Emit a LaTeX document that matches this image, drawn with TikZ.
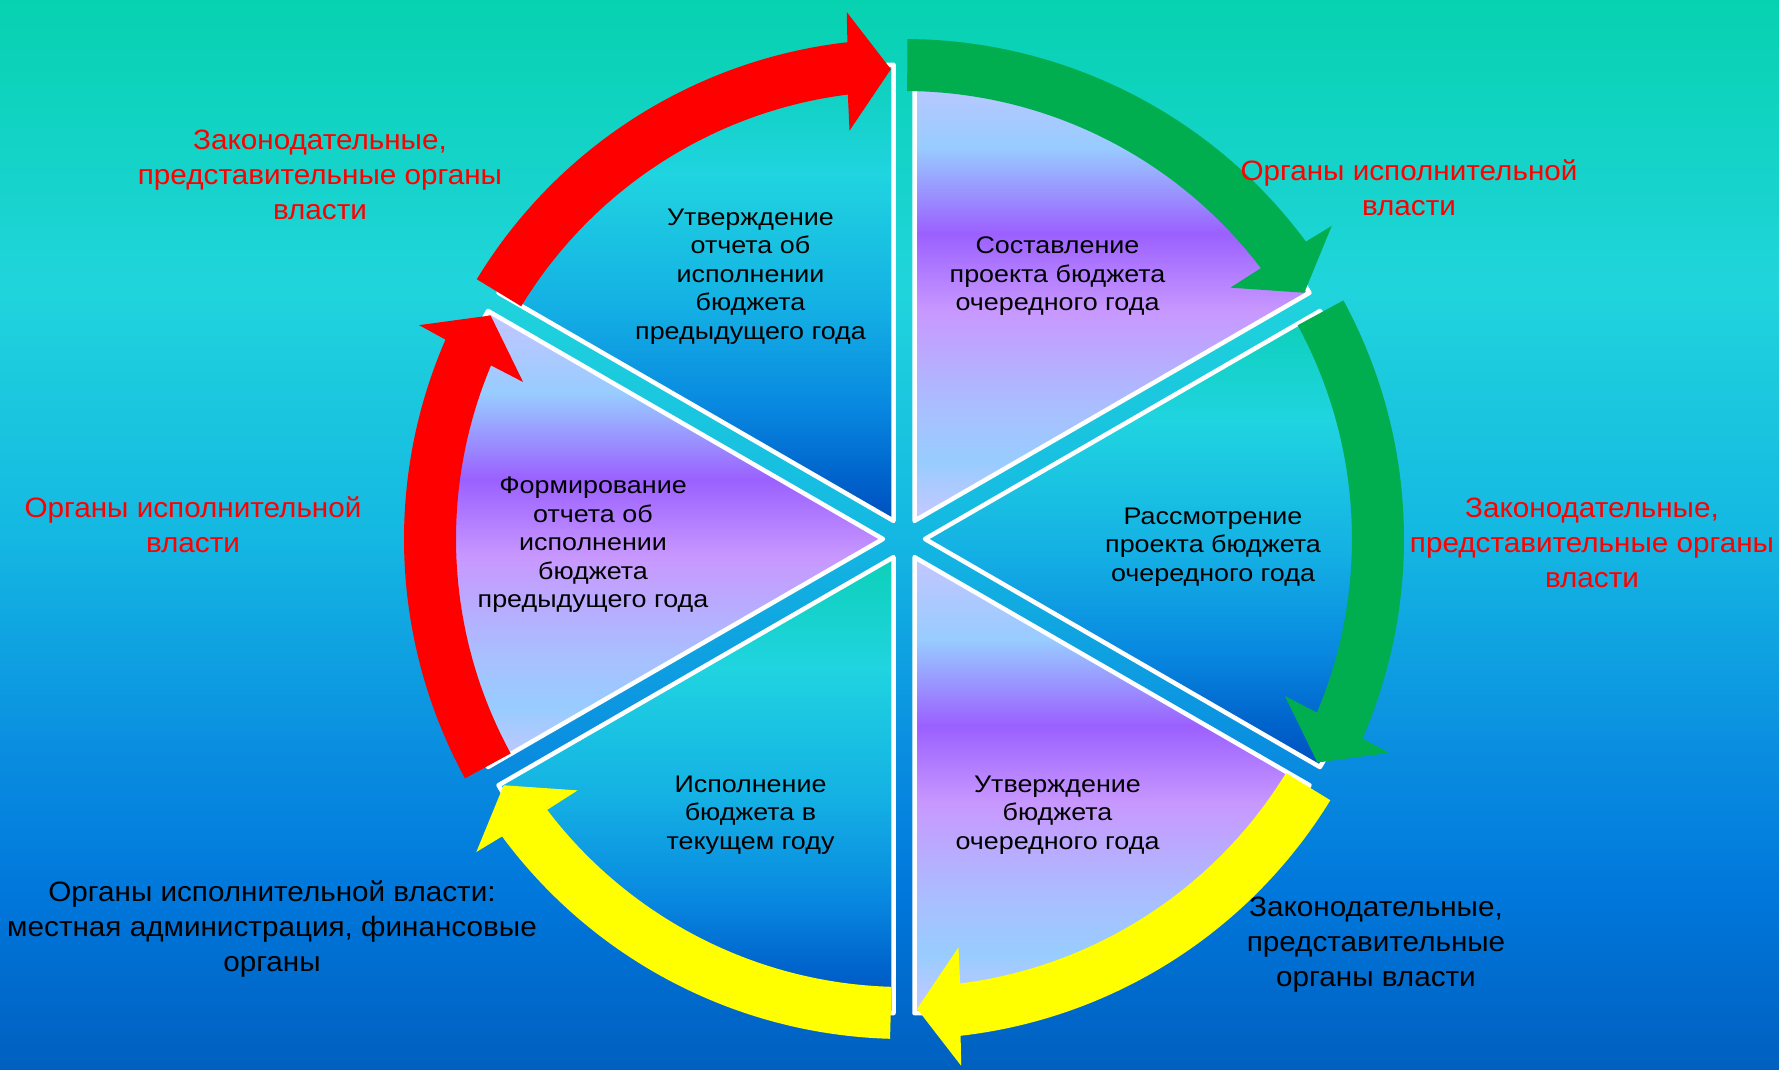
\documentclass[tikz,border=0pt]{standalone}
\usepackage{fontspec}
\setmainfont{Liberation Sans}
\newfontfamily\secfont[FakeStretch=1.12]{Liberation Sans}
\newfontfamily\lblfont[FakeStretch=1.06]{Liberation Sans}

\definecolor{arrred}{HTML}{FF0000}
\definecolor{arrgreen}{HTML}{00AD4F}
\definecolor{arryellow}{HTML}{FFFF00}
% background
\definecolor{bg1}{HTML}{06D2B0}
\definecolor{bg2}{HTML}{20D4DC}
\definecolor{bg3}{HTML}{14B8E2}
\definecolor{bg4}{HTML}{0A8EE0}
\definecolor{bg5}{HTML}{0078DC}
\definecolor{bg6}{HTML}{0060C0}
% purple sectors
\definecolor{pu1}{HTML}{C4C6FF}
\definecolor{pu2}{HTML}{98CCFF}
\definecolor{pu3}{HTML}{9B60FF}
\definecolor{pu4}{HTML}{C898FF}
\definecolor{pu5}{HTML}{A8C0FF}
\definecolor{pu6}{HTML}{98CCFF}
\definecolor{pu7}{HTML}{C8C8FF}
% teal sectors
\definecolor{te1}{HTML}{0CD0B8}
\definecolor{te2}{HTML}{20D4E0}
\definecolor{te3}{HTML}{14B0E4}
\definecolor{te4}{HTML}{0888E0}
\definecolor{te5}{HTML}{0064CC}
\definecolor{te6}{HTML}{0050C0}

\pgfdeclareverticalshading{bgshade}{100bp}{color(0bp)=(bg6); color(25bp)=(bg6);
  color(33.5bp)=(bg5); color(40bp)=(bg4); color(50bp)=(bg3); color(61.5bp)=(bg2);
  color(75bp)=(bg1); color(100bp)=(bg1)}
\pgfdeclareverticalshading{purp}{100bp}{color(0bp)=(pu7); color(25bp)=(pu7);
  color(31.5bp)=(pu6); color(37bp)=(pu5); color(48bp)=(pu4); color(56.5bp)=(pu3);
  color(66bp)=(pu2); color(75bp)=(pu1); color(100bp)=(pu1)}
\pgfdeclareverticalshading{teal}{100bp}{color(0bp)=(te6); color(25bp)=(te6);
  color(30bp)=(te5); color(37.5bp)=(te4); color(48.5bp)=(te3); color(63bp)=(te2);
  color(75bp)=(te1); color(100bp)=(te1)}

\begin{document}
\begin{tikzpicture}[x=1pt,y=1pt,
    sector/.style={draw=white,line width=4.5pt,line join=round},
    sectxt/.style={align=center,font=\secfont\fontsize{24}{28.5}\selectfont},
    lbl/.style={align=center,font=\lblfont\fontsize{28}{35}\selectfont}]
    \useasboundingbox (-904,-530) rectangle (875,539);
    \shade[shading=bgshade] (-904,-530) rectangle (875,539);
    % sectors
    \foreach \b/\sh in {30/purp,-30/teal,-90/purp,-150/teal,150/purp,90/teal}{
        \pgfmathsetmacro\m{\b+30}
        \pgfmathsetmacro\a{\b+60}
        \shade[sector,shading=\sh] (\m:21) -- ++(\b:456)
            arc[start angle=\b,end angle=\a,radius=456pt] -- cycle;
    }
    % arrows
    \foreach \a/\col/\off in {150/arrred/1.3,90/arrgreen/0.4,30/arrgreen/1.5,-30/arryellow/1.5,-90/arryellow/1.6,210/arrred/1.4}{
        \pgfmathsetmacro\s{\a-\off}
        \pgfmathsetmacro\t{\a-60+1.6}
        \pgfmathsetmacro\ho{\a-60+6.2}
        \pgfmathsetmacro\hi{\a-60+7.6}
        \pgfmathsetmacro\so{\a-60+6.5}
        \pgfmathsetmacro\si{\a-60+7.2}
        \fill[\col] (\s:500) arc[start angle=\s,end angle=\so,radius=500pt]
            -- (\ho:530) -- (\t:470) -- (\hi:412) -- (\si:448)
            arc[start angle=\si,end angle=\s,radius=448pt] -- cycle;
    }
    % sector texts
    \node[sectxt] (sost)    at (153.5,262.5)  {Составление\\проекта бюджета\\очередного года};
    \node[sectxt] (rassm)   at (309,-8)       {Рассмотрение\\проекта бюджета\\очередного года};
    \node[sectxt] (utvbud)  at (153.5,-276)   {Утверждение\\бюджета\\очередного года};
    \node[sectxt] (ispoln)  at (-153.5,-276)  {Исполнение\\бюджета в\\текущем году};
    \node[sectxt] (formir)  at (-311,-6)      {Формирование\\отчета об\\исполнении\\бюджета\\предыдущего года};
    \node[sectxt] (utvotch) at (-153.5,262.5) {Утверждение\\отчета об\\исполнении\\бюджета\\предыдущего года};
    % outer labels
    \node[lbl,text=arrred] (zak_ul) at (-584,364) {Законодательные,\\представительные органы\\власти};
    \node[lbl,text=arrred] (isp_ur) at (505,351)  {Органы исполнительной\\власти};
    \node[lbl,text=arrred] (zak_r)  at (688,-4)   {Законодательные,\\представительные органы\\власти};
    \node[lbl] (zak_br) at (472,-406)  {Законодательные,\\представительные\\органы власти};
    \node[lbl] (isp_bl) at (-632,-390) {Органы исполнительной власти:\\местная администрация, финансовые\\органы};
    \node[lbl,text=arrred] (isp_l)  at (-711,14)  {Органы исполнительной\\власти};
\end{tikzpicture}
\end{document}
